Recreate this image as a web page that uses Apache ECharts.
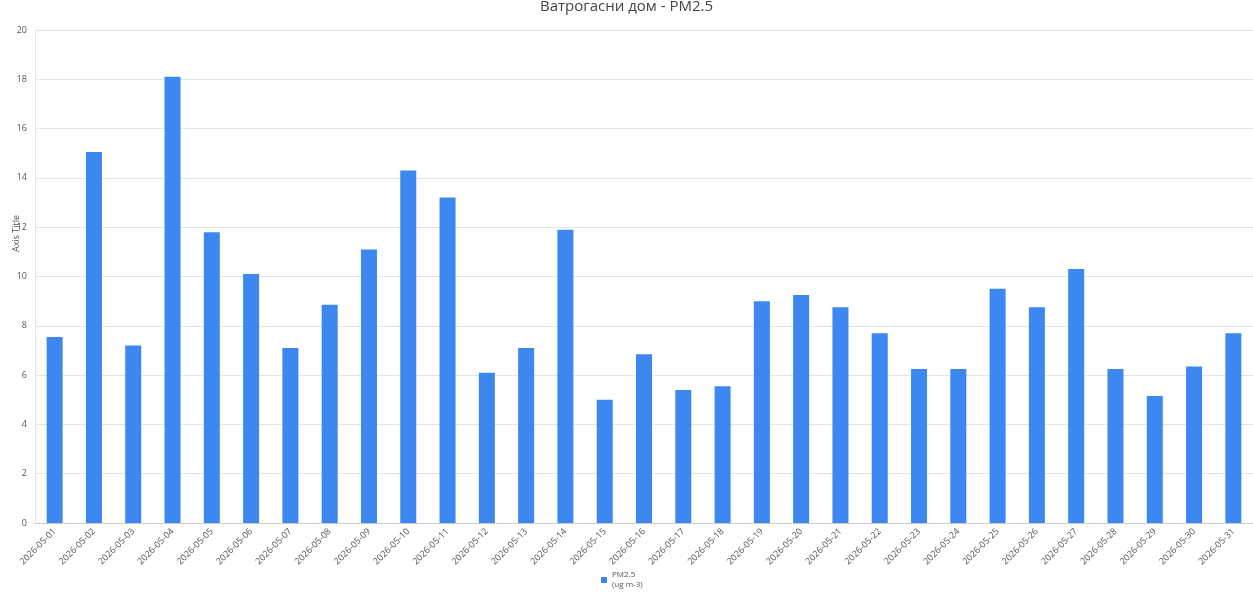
<!DOCTYPE html>
<html><head><meta charset="utf-8">
<script src="https://cdn.jsdelivr.net/npm/echarts@6/dist/echarts.min.js"></script>
<style>html,body{margin:0;padding:0;background:#fff}#c{width:1253px;height:607px}</style>
</head><body><div id="c"></div>
<script>
const categories = ['2026-05-01','2026-05-02','2026-05-03','2026-05-04','2026-05-05','2026-05-06','2026-05-07','2026-05-08','2026-05-09','2026-05-10','2026-05-11','2026-05-12','2026-05-13','2026-05-14','2026-05-15','2026-05-16','2026-05-17','2026-05-18','2026-05-19','2026-05-20','2026-05-21','2026-05-22','2026-05-23','2026-05-24','2026-05-25','2026-05-26','2026-05-27','2026-05-28','2026-05-29','2026-05-30','2026-05-31'];
const pm25 = [7.55,15.05,7.2,18.1,11.8,10.1,7.1,8.85,11.1,14.3,13.2,6.1,7.1,11.9,5.0,6.85,5.4,5.55,9.0,9.25,8.75,7.7,6.25,6.25,9.5,8.75,10.3,6.25,5.15,6.35,7.7];
const seriesName = 'PM2.5\n(ug m-3)';
const chart = echarts.init(document.getElementById('c'), null, {renderer:'canvas'});
chart.setOption({
  animation:false,
  title:{text:'Ватрогасни дом - PM2.5', left:'center', top:-6, textStyle:{fontFamily:'Open Sans', fontSize:15, fontWeight:'normal', color:'#444'}},
  grid:{left:35, right:0, top:30, bottom:84},
  legend:{bottom:12, left:596, itemWidth:6, itemHeight:6, icon:'rect', itemGap:4, textStyle:{fontFamily:'Open Sans', fontSize:8, color:'#555', lineHeight:10}, data:[seriesName]},
  graphic:[{type:'text', left:12, top:215, rotation:Math.PI/2, style:{text:'Axis Title', font:'9px "Open Sans"', fill:'#555'}}],
  xAxis:{type:'category', data:categories, axisTick:{show:false}, axisLine:{lineStyle:{color:'#ccc'}},
    axisLabel:{rotate:45, fontFamily:'Open Sans', fontSize:9, color:'#555', margin:7, interval:0}},
  yAxis:{type:'value', min:0, max:20, interval:2, axisLine:{show:true, lineStyle:{color:'#e6e6e6'}},
    axisLabel:{fontFamily:'Open Sans', fontSize:9, color:'#555', margin:8},
    splitLine:{lineStyle:{color:'#e4e4e4', type:'solid'}}},
  series:[{name:seriesName, type:'bar', data:pm25, barWidth:16, itemStyle:{color:'#3c88f0'}}]
});
</script></body></html>
